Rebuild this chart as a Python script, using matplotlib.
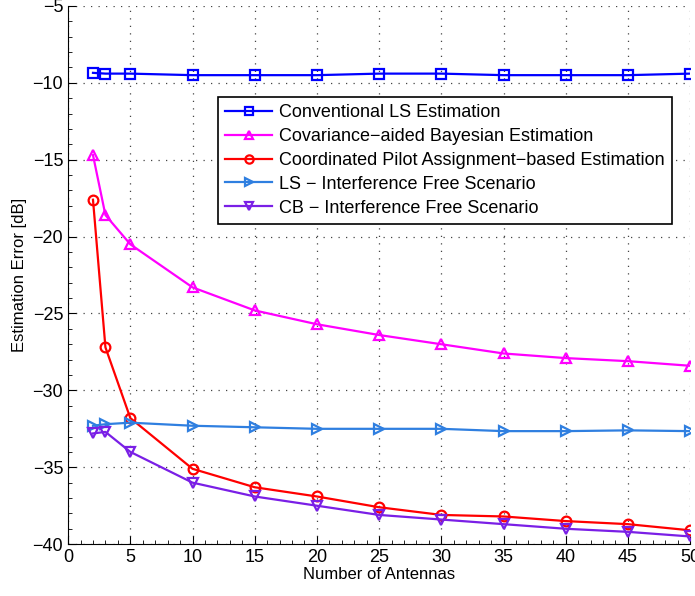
import matplotlib.pyplot as plt
from matplotlib.ticker import AutoMinorLocator

antennas = [2, 3, 5, 10, 15, 20, 25, 30, 35, 40, 45, 50]

conv_ls = [-9.35, -9.4, -9.4, -9.5, -9.5, -9.5, -9.4, -9.4, -9.5, -9.5, -9.5, -9.4]
cov_bayes = [-14.7, -18.6, -20.5, -23.3, -24.8, -25.7, -26.4, -27.0, -27.6, -27.9, -28.1, -28.4]
coord_pilot = [-17.6, -27.2, -31.8, -35.1, -36.3, -36.9, -37.6, -38.1, -38.2, -38.5, -38.7, -39.1]
ls_free = [-32.3, -32.2, -32.1, -32.3, -32.4, -32.5, -32.5, -32.5, -32.65, -32.65, -32.6, -32.65]
cb_free = [-32.8, -32.7, -34.0, -36.0, -36.9, -37.5, -38.1, -38.4, -38.7, -39.0, -39.2, -39.5]

labels = [
    'Conventional LS Estimation',
    'Covariance\u2212aided Bayesian Estimation',
    'Coordinated Pilot Assignment\u2212based Estimation',
    'LS \u2212 Interference Free Scenario',
    'CB \u2212 Interference Free Scenario',
]

plt.rcParams['font.family'] = ['Liberation Sans', 'DejaVu Sans']

fig = plt.figure(figsize=(6.95, 5.96), dpi=100)
ax = fig.add_axes([0.098, 0.087, 0.895, 0.903])

lw = 1.6
ms = 7
ax.plot(antennas, conv_ls, color='#0000ff', marker='s', mfc='none', mew=1.6, ms=ms, lw=lw, label=labels[0])
ax.plot(antennas, cov_bayes, color='#ff00ff', marker='^', mfc='none', mew=1.6, ms=ms, lw=lw, label=labels[1])
ax.plot(antennas, coord_pilot, color='#ff0000', marker='o', mfc='none', mew=1.6, ms=ms, lw=lw, label=labels[2])
ax.plot(antennas, ls_free, color='#2f7fe0', marker='>', mfc='none', mew=1.6, ms=ms, lw=lw, label=labels[3])
ax.plot(antennas, cb_free, color='#7a1fe6', marker='v', mfc='none', mew=1.6, ms=ms, lw=lw, label=labels[4])

ax.set_xlim(0, 50)
ax.set_ylim(-40, -5)
ax.set_xticks(range(0, 51, 5))
ax.set_yticks(range(-40, -4, 5))
ax.set_yticklabels([f'\u2212{abs(v)}' for v in range(-40, -4, 5)])
ax.xaxis.set_minor_locator(AutoMinorLocator(5))
ax.yaxis.set_minor_locator(AutoMinorLocator(5))
ax.tick_params(which='both', direction='in', labelsize=13)
ax.tick_params(which='major', length=6)
ax.tick_params(which='minor', length=3)
ax.grid(True, which='major', linestyle=(0, (1, 5)), color='#444444', lw=0.9)
ax.spines['top'].set_visible(False)
ax.spines['right'].set_visible(False)

ax.set_xlabel('Number of Antennas', fontsize=12, labelpad=1)
ax.set_ylabel('Estimation Error [dB]', fontsize=12)

leg = ax.legend(loc='upper right', bbox_to_anchor=(0.971, 0.831), fontsize=13,
                fancybox=False, framealpha=1, edgecolor='black', markerscale=0.85,
                handlelength=2.6, handletextpad=0.4, borderpad=0.4,
                labelspacing=0.38, borderaxespad=0)
leg.get_frame().set_linewidth(1.2)

fig.savefig('out.png')
